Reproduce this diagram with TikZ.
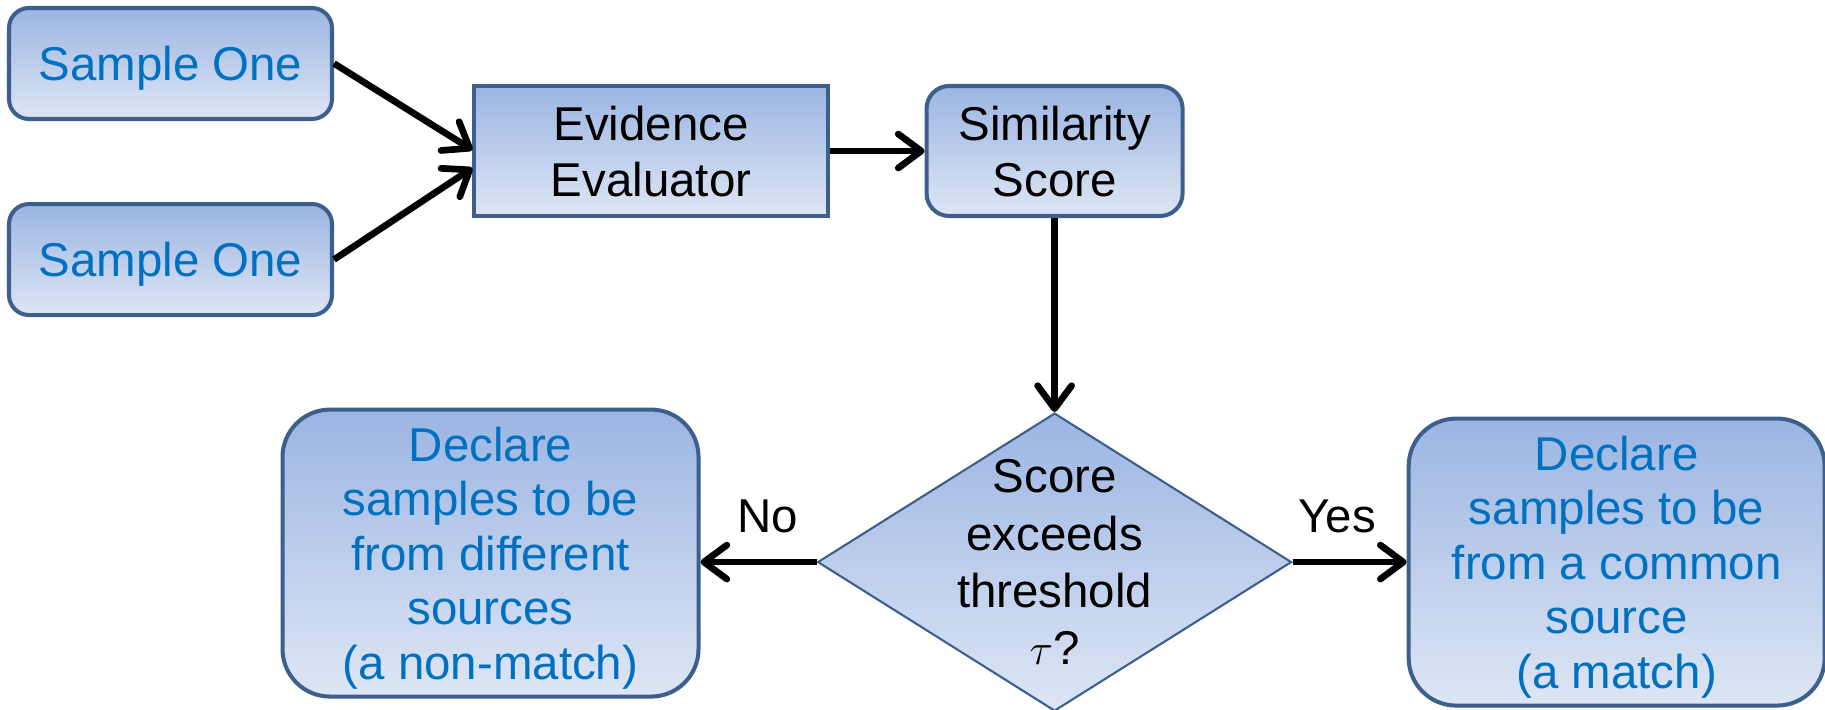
\documentclass[tikz,border=0pt]{standalone}
\usepackage{fontspec}
\setmainfont{Liberation Sans}
\usepackage{tikz}
\usetikzlibrary{positioning, arrows.meta, calc, shapes.geometric}
\definecolor{boxline}{RGB}{60,95,140}
\definecolor{shadetop}{RGB}{155,181,226}
\definecolor{shadebot}{RGB}{222,230,245}
\definecolor{bluetext}{RGB}{0,112,192}

\begin{document}
\begin{tikzpicture}[
    base/.style={draw=boxline, line width=2.3pt, top color=shadetop, bottom color=shadebot,
                 font=\fontsize{27}{32}\selectfont, align=center, inner sep=0pt, text depth=0pt},
    smp/.style={base, rounded corners=0.4cm, text=bluetext, minimum width=6.46cm, minimum height=2.22cm},
    proc/.style={base, line width=1.8pt, text=black, minimum width=7.08cm, minimum height=2.6cm},
    score/.style={base, rounded corners=0.45cm, text=black, minimum width=5.12cm, minimum height=2.6cm},
    dec/.style={diamond, draw=boxline, line width=1.2pt, top color=shadetop, bottom color=shadebot,
                minimum width=9.48cm, minimum height=5.96cm, inner sep=0pt},
    res/.style={base, rounded corners=0.95cm, text=bluetext, font=\fontsize{27}{31}\selectfont,
                minimum width=8.32cm, minimum height=5.74cm},
    ed/.style={-{Straight Barb[length=4.6mm, width=6.8mm, round]}, line width=3.8pt},
    brl/.style={font=\fontsize{27}{32}\selectfont, anchor=base, inner sep=0pt}
  ]
  \useasboundingbox (0,0) rectangle (36.5,-14.2);
  % ---------------- samples ----------------
  \node[smp] (s1) at (3.41,-1.27) {Sample One};
  \node[smp, below=1.62cm of s1] (s2) {Sample One};
  \node[proc] (ev) at (13.02,-3.02) {Evidence\\Evaluator};
  \node[score, right=1.9cm of ev] (sim) {Similarity\\Score};
  \draw[ed] (s1.east) -- ([yshift=0.02cm]ev.west);
  \draw[ed] (s2.east) -- ([yshift=-0.34cm]ev.west);
  \draw[ed] (ev) -- (sim);

  % ---------------- decision ----------------
  \node[dec, below=3.88cm of sim] (dec) {};
  \node[font=\fontsize{27}{32.5}\selectfont, align=center, inner sep=0pt] (dtxt) at (dec.center)
    {Score\\exceeds\\threshold\\$\tau$?};
  \node[res, left=2.32cm of dec, yshift=0.18cm] (nomatch)
    {Declare\\samples to be\\from different\\sources\\(a non-match)};
  \node[res, right=2.28cm of dec] (match)
    {Declare\\samples to be\\from a common\\source\\(a match)};
  \draw[ed] (sim) -- (dec);
  \draw[ed] (dec.west) -- (dec.west -| nomatch.east) node[brl, pos=0.42, yshift=0.6cm] {No};
  \draw[ed] (dec.east) -- (match.west) node[brl, pos=0.39, yshift=0.6cm] {Yes};
\end{tikzpicture}
\end{document}
